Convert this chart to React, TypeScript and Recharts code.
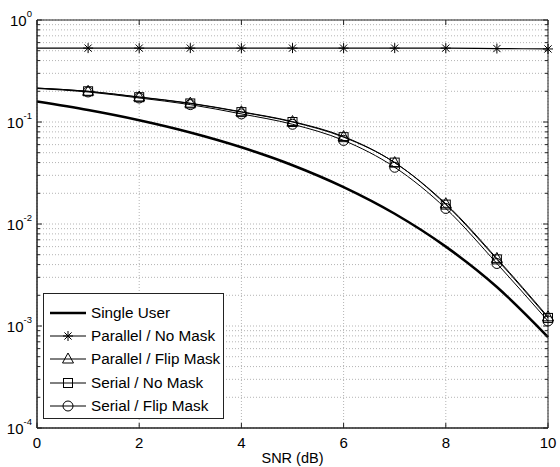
import React from 'react';
import {
  LineChart,
  Line,
  XAxis,
  YAxis,
  CartesianGrid,
  Legend,
  ReferenceArea,
} from 'recharts';

document.body.style.margin = '0';

const snr = [0, 1, 2, 3, 4, 5, 6, 7, 8, 9, 10];
const singleUser = [0.1587, 0.1309, 0.104, 0.0789, 0.0565, 0.0377, 0.023, 0.0126, 0.006, 0.00241, 0.00078];
const parallelNoMask = [0.53, 0.53, 0.53, 0.53, 0.53, 0.53, 0.53, 0.53, 0.53, 0.525, 0.52];
const parallelFlipMask = [0.215, 0.2, 0.176, 0.153, 0.126, 0.101, 0.072, 0.04, 0.0158, 0.0046, 0.00123];
const serialNoMask = [0.215, 0.2, 0.175, 0.152, 0.125, 0.1, 0.071, 0.04, 0.0155, 0.0045, 0.0012];
const serialFlipMask = [0.213, 0.197, 0.172, 0.148, 0.12, 0.095, 0.066, 0.036, 0.0142, 0.0041, 0.00112];

const xTicks = [0, 2, 4, 6, 8, 10];
const yDecades = [-4, -3, -2, -1, 0];
const yTicks = yDecades.flatMap(d =>
  d === 0 ? [1] : [1, 2, 3, 4, 5, 6, 7, 8, 9].map(m => m * Math.pow(10, d))
);

const data = snr.map((x, i) => ({
  snr: x,
  single: singleUser[i],
  pNo: parallelNoMask[i],
  pFlip: parallelFlipMask[i],
  sNo: serialNoMask[i],
  sFlip: serialFlipMask[i],
}));

const W = 560;
const H = 467;
const LEFT = 37;
const RIGHT = 548;
const TOP = 20;
const BOTTOM = 428;
const FONT = '"Liberation Sans", Arial, sans-serif';

type Shape = 'star' | 'triangle' | 'square' | 'circle';

function Marker({ cx, cy, shape }: { cx: number; cy: number; shape: Shape }) {
  const s = { stroke: '#000', strokeWidth: 1, fill: 'none' };
  if (shape === 'star') {
    return (
      <g {...s}>
        <line x1={cx - 5} y1={cy} x2={cx + 5} y2={cy} />
        <line x1={cx} y1={cy - 5} x2={cx} y2={cy + 5} />
        <line x1={cx - 3.6} y1={cy - 3.6} x2={cx + 3.6} y2={cy + 3.6} />
        <line x1={cx - 3.6} y1={cy + 3.6} x2={cx + 3.6} y2={cy - 3.6} />
      </g>
    );
  }
  if (shape === 'triangle') {
    return <polygon {...s} points={`${cx},${cy - 6} ${cx - 5.5},${cy + 4} ${cx + 5.5},${cy + 4}`} />;
  }
  if (shape === 'square') {
    return <rect {...s} x={cx - 4.5} y={cy - 4.5} width={9} height={9} />;
  }
  return <circle {...s} cx={cx} cy={cy} r={5} />;
}

const markerDot = (shape: Shape) => (props: any) => {
  const { cx, cy, index } = props;
  if (index === 0 || cx == null || cy == null) return <g key={`d${index}`} />;
  return <Marker key={`d${index}`} cx={cx} cy={cy} shape={shape} />;
};

function YTick(props: any) {
  const { y, payload } = props;
  const v = payload.value;
  const exp = Math.round(Math.log10(v));
  const major = Math.abs(Math.log10(v) - exp) < 1e-6;
  const len = major ? 5 : 3;
  return (
    <g>
      <line x1={LEFT} y1={y} x2={LEFT + len} y2={y} stroke="#222" />
      <line x1={RIGHT - len} y1={y} x2={RIGHT} y2={y} stroke="#222" />
      {major && (
        <text x={32} y={y + 6} textAnchor="end" fontFamily={FONT} fontSize={15} fill="#000">
          10
          <tspan dy={-9} fontSize={9.5}>{exp}</tspan>
        </text>
      )}
    </g>
  );
}

function XTick(props: any) {
  const { x, payload } = props;
  return (
    <g>
      <line x1={x} y1={BOTTOM} x2={x} y2={BOTTOM - 5} stroke="#222" />
      <line x1={x} y1={TOP} x2={x} y2={TOP + 5} stroke="#222" />
      <text x={x} y={BOTTOM + 20} textAnchor="middle" fontFamily={FONT} fontSize={15} fill="#000">
        {payload.value}
      </text>
    </g>
  );
}

const legendItems: { label: string; shape?: Shape }[] = [
  { label: 'Single User' },
  { label: 'Parallel / No Mask', shape: 'star' },
  { label: 'Parallel / Flip Mask', shape: 'triangle' },
  { label: 'Serial / No Mask', shape: 'square' },
  { label: 'Serial / Flip Mask', shape: 'circle' },
];

function LegendBox() {
  return (
    <div
      style={{
        width: 181,
        height: 126,
        border: '1px solid #222',
        background: '#fff',
        fontFamily: FONT,
        fontSize: 15.3,
        paddingTop: 7,
        boxSizing: 'border-box',
      }}
    >
      {legendItems.map(item => (
        <div key={item.label} style={{ display: 'flex', alignItems: 'center', height: 23.4 }}>
          <svg width={47} height={20} style={{ flex: 'none' }}>
            <line x1={6} y1={10} x2={42} y2={10} stroke="#000" strokeWidth={item.shape ? 1 : 2.5} />
            {item.shape && <Marker cx={24} cy={10} shape={item.shape} />}
          </svg>
          <span style={{ whiteSpace: 'nowrap', color: '#000' }}>{item.label}</span>
        </div>
      ))}
    </div>
  );
}

export default function App() {
  return (
    <div style={{ width: W, height: H, background: '#fff' }}>
      <LineChart
        width={W}
        height={H}
        data={data}
        margin={{ top: TOP, right: W - RIGHT, left: 0, bottom: 0 }}
      >
        <CartesianGrid stroke="#b4b4b4" strokeDasharray="1 2" />
        <XAxis
          type="number"
          dataKey="snr"
          domain={[0, 10]}
          ticks={xTicks}
          tick={<XTick />}
          tickLine={false}
          axisLine={{ stroke: '#222' }}
          height={H - BOTTOM}
          label={{ value: 'SNR (dB)', position: 'insideBottom', offset: 4, fontFamily: FONT, fontSize: 14.5, fill: '#000' }}
        />
        <YAxis
          scale="log"
          domain={[1e-4, 1]}
          allowDataOverflow
          ticks={yTicks}
          tick={<YTick />}
          tickLine={false}
          axisLine={{ stroke: '#222' }}
          width={LEFT}
          interval={0}
        />
        <ReferenceArea x1={0} x2={10} y1={1e-4} y2={1} fill="none" stroke="#222" strokeWidth={1} fillOpacity={0} />
        <Line type="monotone" dataKey="single" stroke="#000" strokeWidth={2.5} dot={false} isAnimationActive={false} />
        <Line type="monotone" dataKey="pNo" stroke="#000" strokeWidth={1.2} dot={markerDot('star')} isAnimationActive={false} />
        <Line type="monotone" dataKey="pFlip" stroke="#000" strokeWidth={1} dot={markerDot('triangle')} isAnimationActive={false} />
        <Line type="monotone" dataKey="sNo" stroke="#000" strokeWidth={1} dot={markerDot('square')} isAnimationActive={false} />
        <Line type="monotone" dataKey="sFlip" stroke="#000" strokeWidth={1} dot={markerDot('circle')} isAnimationActive={false} />
        <Legend
          layout="vertical"
          align="center"
          verticalAlign="middle"
          content={<LegendBox />}
          wrapperStyle={{ left: 43, top: 293, width: 181, height: 126, right: 'auto', bottom: 'auto' }}
        />
      </LineChart>
    </div>
  );
}
